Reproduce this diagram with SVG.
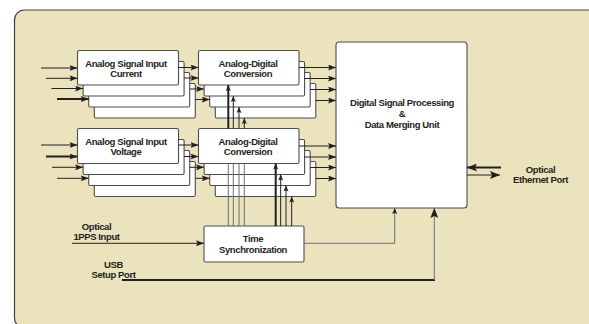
<svg xmlns="http://www.w3.org/2000/svg" width="589" height="324" viewBox="0 0 589 324">
  <style>
    .box { fill: #ffffff; stroke: #4d4d4f; stroke-width: 1.1; }
    .lbl { font-family: "Liberation Sans", Arial, sans-serif; font-weight: bold; font-size: 9.5px; letter-spacing: -0.4px; fill: #231f20; text-anchor: middle; }
    .ln { fill: none; stroke: #231f20; stroke-width: 1; }
    .thick { stroke-width: 2; }
    .grey { stroke: #6d6e71; }
  </style>
  <defs>
    <marker id="ah" viewBox="0 0 8 6" refX="8" refY="3" markerWidth="8" markerHeight="6" orient="auto" markerUnits="userSpaceOnUse">
      <path d="M0,0 L8,3 L0,6 L1.5,3 z" fill="#231f20"/>
    </marker>
    <marker id="ahs" viewBox="0 0 6 5" refX="6" refY="2.5" markerWidth="6" markerHeight="5" orient="auto" markerUnits="userSpaceOnUse">
      <path d="M0,0 L6,2.5 L0,5 L1.2,2.5 z" fill="#231f20"/>
    </marker>
    <marker id="ahl" viewBox="0 0 10 8" refX="10" refY="4" markerWidth="10" markerHeight="8" orient="auto" markerUnits="userSpaceOnUse">
      <path d="M0,0 L10,4 L0,8 L2,4 z" fill="#231f20"/>
    </marker>
  </defs>

  <!-- background panel -->
  <rect x="14.5" y="10" width="584" height="318" rx="10" ry="10" fill="#ebe3bd" stroke="#414042" stroke-width="1.2"/>

  <!-- analog input stack: current -->
  <g id="input-current">
    <rect class="box" x="94.3" y="83.5" width="101" height="34.5" rx="1.5"/>
    <rect class="box" x="88.7" y="72.5" width="101" height="34.5" rx="1.5"/>
    <rect class="box" x="83.1" y="61.5" width="101" height="34.5" rx="1.5"/>
    <rect class="box" x="77.5" y="50.5" width="101" height="34.5" rx="1.5"/>
    <text class="lbl" x="126" y="66.5">Analog Signal Input</text>
    <text class="lbl" x="126" y="76.5">Current</text>
  </g>

  <!-- analog input stack: voltage -->
  <g id="input-voltage">
    <rect class="box" x="94.3" y="161.5" width="101" height="35" rx="1.5"/>
    <rect class="box" x="88.7" y="150.5" width="101" height="35" rx="1.5"/>
    <rect class="box" x="83.1" y="139.5" width="101" height="35" rx="1.5"/>
    <rect class="box" x="77.5" y="128.5" width="101" height="35" rx="1.5"/>
    <text class="lbl" x="126" y="144.5">Analog Signal Input</text>
    <text class="lbl" x="126" y="154.5">Voltage</text>
  </g>

  <!-- A/D conversion stack (current channels) -->
  <g id="adc-current">
    <rect class="box" x="215.3" y="83.5" width="100.5" height="34.5" rx="1.5"/>
    <rect class="box" x="209.7" y="72.5" width="100.5" height="34.5" rx="1.5"/>
    <rect class="box" x="204.1" y="61.5" width="100.5" height="34.5" rx="1.5"/>
    <rect class="box" x="198.5" y="50.5" width="100.5" height="34.5" rx="1.5"/>
    <text class="lbl" x="248" y="66.5">Analog-Digital</text>
    <text class="lbl" x="248" y="76.5">Conversion</text>
  </g>

  <!-- A/D conversion stack (voltage channels) -->
  <g id="adc-voltage">
    <rect class="box" x="215.3" y="161.5" width="100.5" height="35" rx="1.5"/>
    <rect class="box" x="209.7" y="150.5" width="100.5" height="35" rx="1.5"/>
    <rect class="box" x="204.1" y="139.5" width="100.5" height="35" rx="1.5"/>
    <rect class="box" x="198.5" y="128.5" width="100.5" height="35" rx="1.5"/>
    <text class="lbl" x="248" y="145">Analog-Digital</text>
    <text class="lbl" x="248" y="155">Conversion</text>
  </g>

  <!-- time synchronization -->
  <g id="time-sync">
    <rect class="box" x="204" y="226" width="100" height="36" rx="1.5"/>
    <text class="lbl" x="253" y="241.5">Time</text>
    <text class="lbl" x="253" y="252.5">Synchronization</text>
  </g>

  <!-- DSP / merging unit -->
  <g id="dsp">
    <rect class="box" x="336" y="42" width="131" height="166" rx="3"/>
    <text class="lbl" x="402" y="106">Digital Signal Processing</text>
    <text class="lbl" x="402" y="116.5">&amp;</text>
    <text class="lbl" x="402" y="127.5">Data Merging Unit</text>
  </g>

  <!-- port labels -->
  <g id="port-labels">
    <text class="lbl" x="96.5" y="229.5">Optical</text>
    <text class="lbl" x="96.5" y="239.5">1PPS Input</text>
    <text class="lbl" x="113.5" y="268">USB</text>
    <text class="lbl" x="113.5" y="278">Setup Port</text>
    <text class="lbl" x="540.5" y="172.5">Optical</text>
    <text class="lbl" x="540.5" y="183">Ethernet Port</text>
  </g>

  <g id="connectors">
    <!-- inputs to current stack -->
    <path class="ln" d="M41 68 H77.5" marker-end="url(#ah)"/>
    <path class="ln" d="M46 78.3 H77.5" marker-end="url(#ah)"/>
    <path class="ln" d="M51.5 88.5 H83.1" marker-end="url(#ah)"/>
    <path class="ln thick" d="M57 99 H88.7" marker-end="url(#ah)"/>
    <!-- inputs to voltage stack -->
    <path class="ln" d="M41 145 H77.5" marker-end="url(#ah)"/>
    <path class="ln thick" d="M46 156.5 H77.5" marker-end="url(#ah)"/>
    <path class="ln" d="M52 167.3 H83.1" marker-end="url(#ah)"/>
    <path class="ln" d="M57 178.3 H88.7" marker-end="url(#ah)"/>

    <!-- current stack to A/D -->
    <path class="ln" d="M178.5 67.5 H198.5" marker-end="url(#ah)"/>
    <path class="ln" d="M184.1 78 H198.5" marker-end="url(#ah)"/>
    <path class="ln" d="M189.7 89 H204.1" marker-end="url(#ah)"/>
    <path class="ln" d="M195.3 99.5 H209.7" marker-end="url(#ah)"/>
    <!-- voltage stack to A/D -->
    <path class="ln" d="M178.5 145 H198.5" marker-end="url(#ah)"/>
    <path class="ln" d="M184.1 156.5 H198.5" marker-end="url(#ah)"/>
    <path class="ln" d="M189.7 167.3 H204.1" marker-end="url(#ah)"/>
    <path class="ln" d="M195.3 178.3 H209.7" marker-end="url(#ah)"/>

    <!-- A/D to DSP -->
    <path class="ln" d="M299 67.5 H336" marker-end="url(#ah)"/>
    <path class="ln" d="M304.6 78.5 H336" marker-end="url(#ah)"/>
    <path class="ln" d="M310.2 89.5 H336" marker-end="url(#ah)"/>
    <path class="ln" d="M315.8 100.5 H336" marker-end="url(#ah)"/>
    <path class="ln" d="M299 146 H336" marker-end="url(#ah)"/>
    <path class="ln" d="M304.6 157 H336" marker-end="url(#ah)"/>
    <path class="ln" d="M310.2 167.5 H336" marker-end="url(#ah)"/>
    <path class="ln" d="M315.8 178.5 H336" marker-end="url(#ah)"/>

    <!-- sync lines to current A/D stack (behind voltage A/D front box) -->
    <path class="ln grey" d="M228.3 226 V163.5 M233.3 226 V163.5 M239 226 V163.5 M244.3 226 V163.5"/>
    <path class="ln thick" d="M228.3 128.5 V85" marker-end="url(#ahs)"/>
    <path class="ln" d="M233.3 128.5 V96" marker-end="url(#ahs)"/>
    <path class="ln" d="M239 128.5 V107" marker-end="url(#ahs)"/>
    <path class="ln" d="M244.3 128.5 V118" marker-end="url(#ahs)"/>
    <!-- sync lines to voltage A/D stack -->
    <path class="ln thick" d="M275.7 226 V163.5" marker-end="url(#ahs)"/>
    <path class="ln" d="M280.7 226 V174.5" marker-end="url(#ahs)"/>
    <path class="ln" d="M286 226 V185.5" marker-end="url(#ahs)"/>
    <path class="ln" d="M291.7 226 V196.5" marker-end="url(#ahs)"/>

    <!-- sync to DSP -->
    <path class="ln grey" d="M304 243.3 H394.7 V208" marker-end="url(#ahs)"/>
    <!-- 1PPS input -->
    <path class="ln" d="M72 243.3 H204" marker-end="url(#ah)"/>
    <!-- USB setup port -->
    <path class="ln thick" d="M122 280 H435"/>
    <path class="ln grey" d="M434.3 280 V208" marker-end="url(#ahl)"/>
    <!-- optical ethernet -->
    <path class="ln thick" d="M501 167.5 H467" marker-end="url(#ahl)"/>
    <path class="ln" d="M467 175 H500" marker-end="url(#ahl)"/>
  </g>
</svg>
